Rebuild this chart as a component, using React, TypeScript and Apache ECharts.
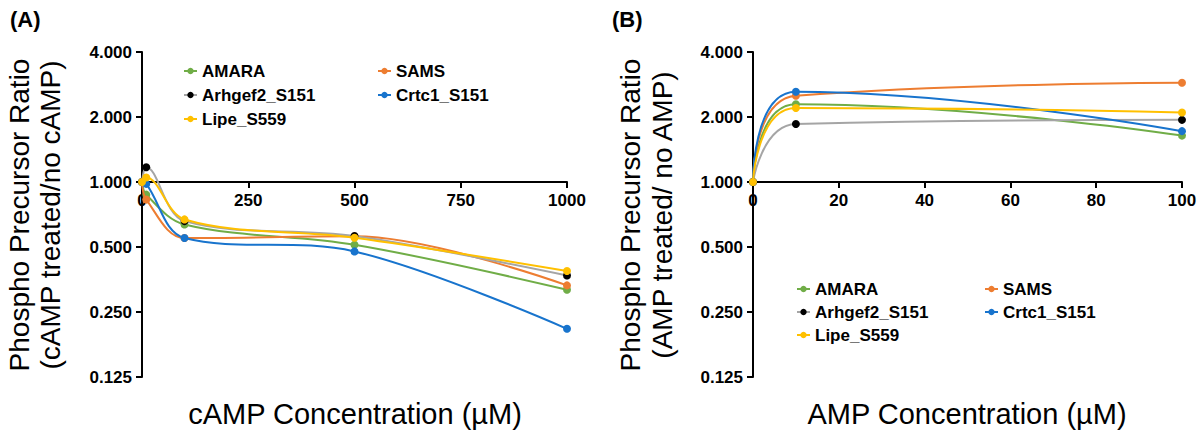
import React, { useEffect, useRef } from "react";
import * as echarts from "echarts";

const seriesNames = ["AMARA", "SAMS", "Arhgef2_S151", "Crtc1_S151", "Lipe_S559"];
const lineColors = ["#70AD47", "#ED7D31", "#A5A5A5", "#1874CD", "#FFC000"];
const markerColors = ["#70AD47", "#ED7D31", "#000000", "#1874CD", "#FFC000"];

// Panel A: cAMP concentration (µM)
const campX = [0, 10, 100, 500, 1000];
const campAMARA = [1, 0.874, 0.636, 0.512, 0.317];
const campSAMS = [1, 0.829, 0.55, 0.56, 0.332];
const campArhgef2 = [1, 1.17, 0.659, 0.562, 0.369];
const campCrtc1 = [1, 0.98, 0.55, 0.477, 0.209];
const campLipe = [1, 1.05, 0.671, 0.552, 0.387];

// Panel B: AMP concentration (µM)
const ampX = [0, 10, 100];
const ampAMARA = [1, 2.29, 1.64];
const ampSAMS = [1, 2.51, 2.88];
const ampArhgef2 = [1, 1.856, 1.94];
const ampCrtc1 = [1, 2.62, 1.72];
const ampLipe = [1, 2.2, 2.1];

const yTicks = [0.125, 0.25, 0.5, 1, 2, 4];

const FONT = "Arial, 'Liberation Sans', sans-serif";

export default function App() {
  const ref = useRef<HTMLDivElement>(null);
  useEffect(() => {
    if (!ref.current) return;
    const chart = echarts.init(ref.current, null, { renderer: "svg" });

    const campSets = [campAMARA, campSAMS, campArhgef2, campCrtc1, campLipe];
    const ampSets = [ampAMARA, ampSAMS, ampArhgef2, ampCrtc1, ampLipe];

    const mk = (name: string, i: number, xs: number[], ys: number[], idx: number, smooth: number) => ({
      type: "line",
      name,
      xAxisIndex: idx,
      yAxisIndex: idx,
      data: xs.map((x, k) => [x, ys[k]]),
      smooth,
      symbol: "circle",
      symbolSize: 8,
      showSymbol: true,
      lineStyle: { color: lineColors[i], width: 2 },
      itemStyle: { color: markerColors[i] },
      z: 2 + i,
    });

    const series: any[] = [];
    seriesNames.forEach((n, i) => series.push(mk(n, i, campX, campSets[i], 0, 0.35)));
    seriesNames.forEach((n, i) => series.push(mk(n, i, ampX, ampSets[i], 1, 0.5)));

    const axisLineStyle = { show: true, lineStyle: { color: "#000", width: 2 } };
    const labelStyle = { color: "#000", fontWeight: "bold" as const, fontSize: 17, fontFamily: FONT };

    const xAxisCommon = {
      type: "value",
      position: "bottom",
      offset: -195,
      axisLine: { ...axisLineStyle, onZero: false },
      axisTick: { show: true, length: 6, lineStyle: { color: "#000", width: 2 } },
      axisLabel: { ...labelStyle, margin: 10, formatter: (v: number) => String(v) },
      splitLine: { show: false },
    };

    const yAxisCommon = {
      type: "log",
      logBase: 2,
      min: yTicks[0],
      max: yTicks[yTicks.length - 1],
      splitNumber: 5,
      axisLine: axisLineStyle,
      axisTick: { show: true, length: 6, lineStyle: { color: "#000", width: 2 } },
      axisLabel: { ...labelStyle, margin: 10, formatter: (v: number) => Number(v).toFixed(3) },
      splitLine: { show: false },
    };

    const legendText = { color: "#000", fontWeight: "bold" as const, fontSize: 17, fontFamily: FONT, lineHeight: 18 };
    const legendCommon = {
      orient: "vertical",
      itemWidth: 13,
      itemHeight: 8,
      itemGap: 6,
      textStyle: legendText,
      selectedMode: false,
      padding: 0,
    };

    const titleText = (text: string, x: number, y: number, rot: number, size: number, bold = false) => ({
      type: "text",
      x,
      y,
      rotation: rot,
      style: {
        text,
        fill: "#000",
        font: `${bold ? "bold " : ""}${size}px ${FONT}`,
        align: "center",
        verticalAlign: "middle",
      },
    });

    chart.setOption({
      animation: false,
      backgroundColor: "#fff",
      grid: [
        { left: 142, top: 52, width: 425, height: 325 },
        { left: 753, top: 52, width: 429, height: 325 },
      ],
      xAxis: [
        { ...xAxisCommon, gridIndex: 0, min: 0, max: 1000, interval: 250 },
        { ...xAxisCommon, gridIndex: 1, min: 0, max: 100, interval: 20 },
      ],
      yAxis: [
        { ...yAxisCommon, gridIndex: 0 },
        { ...yAxisCommon, gridIndex: 1 },
      ],
      legend: [
        { ...legendCommon, left: 183, top: 62, data: [seriesNames[0], seriesNames[2], seriesNames[4]] },
        { ...legendCommon, left: 377, top: 62, data: [seriesNames[1], seriesNames[3]] },
        { ...legendCommon, left: 796, top: 280, itemGap: 5, data: [seriesNames[0], seriesNames[2], seriesNames[4]] },
        { ...legendCommon, left: 984, top: 280, itemGap: 5, data: [seriesNames[1], seriesNames[3]] },
      ],
      graphic: [
        { type: "text", left: 10, top: 8, style: { text: "(A)", fill: "#000", font: `bold 22px ${FONT}` } },
        { type: "text", left: 612, top: 8, style: { text: "(B)", fill: "#000", font: `bold 22px ${FONT}` } },
        titleText("Phospho Precursor Ratio", 19, 215, Math.PI / 2, 28),
        titleText("(cAMP treated/no cAMP)", 50, 215, Math.PI / 2, 28),
        titleText("Phospho Precursor Ratio", 630, 215, Math.PI / 2, 28),
        titleText("(AMP treated/ no AMP)", 662, 215, Math.PI / 2, 28),
        titleText("cAMP Concentration (µM)", 355, 414, 0, 29),
        titleText("AMP Concentration (µM)", 967, 414, 0, 29),
      ],
      series,
    });
    return () => chart.dispose();
  }, []);
  return (
    <div
      ref={ref}
      style={{ position: "fixed", left: 0, top: 0, width: 1200, height: 440, background: "#fff" }}
    />
  );
}
